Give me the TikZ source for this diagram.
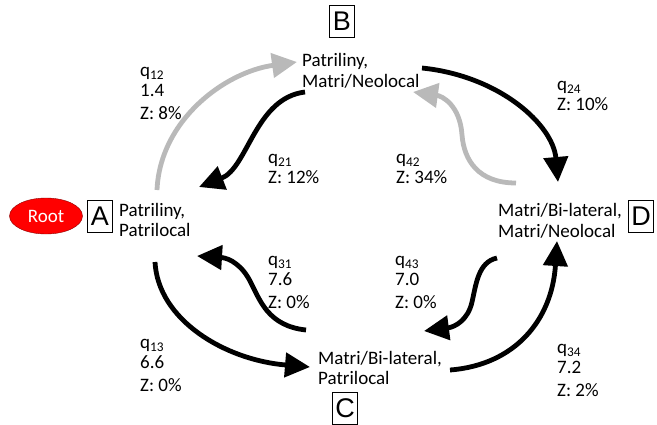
\documentclass[tikz,border=0pt]{standalone}
\usepackage{fontspec}
\setmainfont{Carlito}
\newfontfamily\boxfont{Liberation Sans}
\usetikzlibrary{shapes.geometric}
\usetikzlibrary{arrows.meta}

\begin{document}
\begin{tikzpicture}[x=1pt,y=-1pt]
	\useasboundingbox (0,0) rectangle (657,424);
	\tikzstyle{every node}=[inner sep=0pt,font=\fontsize{19}{20.5}\selectfont];
	\tikzstyle{letter}=[draw,line width=0.8pt,minimum width=25pt,minimum height=32pt,font=\boxfont\fontsize{27}{27}\selectfont];
	\tikzstyle{state}=[anchor=west,align=left];
	\tikzstyle{rate}=[anchor=north west,align=left];
	\tikzstyle{flow}=[line width=4.8pt,-{Triangle[length=25pt,width=24pt]}];
	\tikzstyle{weak}=[flow,draw=gray!55];
	\path (46,216)  node[ellipse,fill=red,draw=red!55!black,minimum width=73pt,minimum height=36pt,text=white] (root) {Root};
	\path (100,216) node[letter] (lA) {A};
	\path (342,21)  node[letter] (lB) {B};
	\path (345,408) node[letter] (lC) {C};
	\path (641,216) node[letter] (lD) {D};
	\path (119,220) node[state] (sA) {Patriliny,\\Patrilocal};
	\path (302,71)  node[state] (sB) {Patriliny,\\Matri/Neolocal};
	\path (318,368) node[state] (sC) {Matri/Bi-lateral,\\Patrilocal};
	\path (498,221) node[state] (sD) {Matri/Bi-lateral,\\Matri/Neolocal};
	\path (140,67)  node[rate] (q12) {q\textsubscript{12}\\1.4\\[2pt]Z: 8\%};
	\path (268,154) node[rate] (q21) {q\textsubscript{21}\\Z: 12\%};
	\path (557,81)  node[rate] (q24) {q\textsubscript{24}\\Z: 10\%};
	\path (396,154) node[rate] (q42) {q\textsubscript{42}\\Z: 34\%};
	\path (268,256) node[rate] (q31) {q\textsubscript{31}\\7.6\\[2pt]Z: 0\%};
	\path (395,256) node[rate] (q43) {q\textsubscript{43}\\7.0\\[2pt]Z: 0\%};
	\path (140,339) node[rate] (q13) {q\textsubscript{13}\\6.6\\[2pt]Z: 0\%};
	\path (557,344) node[rate] (q34) {q\textsubscript{34}\\7.2\\[2pt]Z: 2\%};
	\coordinate (s12) at (157,190);
	\coordinate (e12) at (297,62);
	\coordinate (s21) at (305,92);
	\coordinate (e21) at (199,187);
	\coordinate (s24) at (422,68);
	\coordinate (e24) at (558,182);
	\coordinate (s42) at (516,183);
	\coordinate (e42) at (413,92);
	\coordinate (s31) at (306,330);
	\coordinate (e31) at (197,256);
	\coordinate (s13) at (155,262);
	\coordinate (e13) at (310,367);
	\coordinate (s43) at (497,258);
	\coordinate (e43) at (424,331);
	\coordinate (s34) at (450,370);
	\coordinate (e34) at (557,241);
	\draw[weak] (s12) .. controls (160,120) and (225,72) .. (e12);
	\draw[flow] (s21) .. controls (255,98) and (248,168) .. (e21);
	\draw[flow] (s24) .. controls (500,76) and (553,125) .. (e24);
	\draw[weak] (s42) .. controls (478,183) and (464,160) .. (462,135)
		.. controls (460,105) and (442,96) .. (e42);
	\draw[flow] (s31) .. controls (268,326) and (260,300) .. (251,283)
		.. controls (243,266) and (230,258) .. (e31);
	\draw[flow] (s13) .. controls (158,320) and (225,360) .. (e13);
	\draw[flow] (s43) .. controls (478,262) and (476,285) .. (472,302)
		.. controls (468,320) and (455,327) .. (e43);
	\draw[flow] (s34) .. controls (515,365) and (552,320) .. (e34);
\end{tikzpicture}
\end{document}
